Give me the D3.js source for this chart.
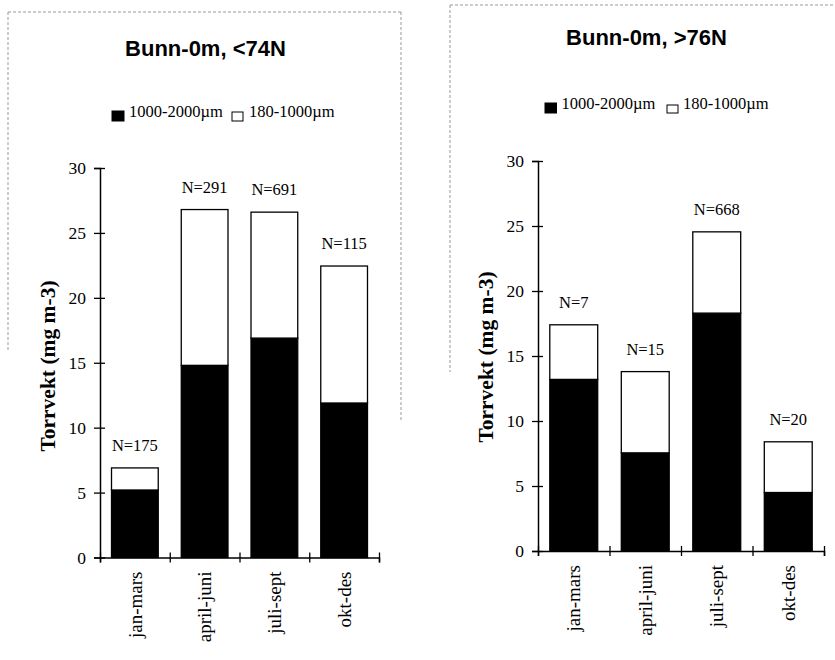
<!DOCTYPE html>
<html>
<head>
<meta charset="utf-8">
<script src="https://cdn.jsdelivr.net/npm/d3@7"></script>
<style>
  body { margin: 0; background: #fff; }
  svg { display: block; }
  .serif { font-family: "Liberation Serif", "Times New Roman", serif; }
  .sans { font-family: "Liberation Sans", Arial, sans-serif; }
</style>
</head>
<body>
<div id="chartDiv"></div>
<script>
// categories and series
var categories = ["jan-mars", "april-juni", "juli-sept", "okt-des"];
var seriesNames = ["1000-2000\u00b5m", "180-1000\u00b5m"];
var yTicks = [0, 5, 10, 15, 20, 25, 30];

// <74N panel
var south_large = [5.2, 14.8, 16.9, 11.9];
var south_small = [1.7, 12.0, 9.7, 10.55];
var south_n = ["N=175", "N=291", "N=691", "N=115"];

// >76N panel
var north_large = [13.2, 7.55, 18.3, 4.5];
var north_small = [4.2, 6.25, 6.25, 3.9];
var north_n = ["N=7", "N=15", "N=668", "N=20"];

var width = 835, height = 660;

var svg = d3.select("#chartDiv")
    .append("svg")
    .attr("width", width)
    .attr("height", height);

function drawPanel(p) {
    var g = svg.append("g");

    // scanned page frame (dotted)
    var frame = g.append("g")
        .attr("stroke", "#999")
        .attr("stroke-width", 1)
        .attr("stroke-dasharray", "3,2")
        .attr("fill", "none");
    p.frame.forEach(function (f) {
        frame.append("line")
            .attr("x1", f[0]).attr("y1", f[1])
            .attr("x2", f[2]).attr("y2", f[3]);
    });

    var y = d3.scaleLinear().domain([0, 30]).range([p.y0, p.y30]);
    var x = d3.scaleBand().domain(categories)
        .range([p.x0, p.x1])
        .paddingInner(0.33)
        .paddingOuter(0.165);
    var xEdge = d3.scaleLinear().domain([0, categories.length]).range([p.x0, p.x1]);

    // table for stacking
    var table = categories.map(function (c, i) {
        var row = { cat: c };
        row[seriesNames[0]] = p.large[i];
        row[seriesNames[1]] = p.small[i];
        return row;
    });
    var stacked = d3.stack().keys(seriesNames)(table);
    var color = d3.scaleOrdinal().domain(seriesNames).range(["#000", "#fff"]);

    g.append("g")
        .selectAll("g")
        .data(stacked)
        .enter().append("g")
        .attr("fill", function (d) { return color(d.key); })
        .selectAll("rect")
        .data(function (d) { return d; })
        .enter().append("rect")
        .attr("x", function (d) { return x(d.data.cat); })
        .attr("width", x.bandwidth())
        .attr("y", function (d) { return y(d[1]); })
        .attr("height", function (d) { return y(d[0]) - y(d[1]); })
        .attr("stroke", "#000")
        .attr("stroke-width", 1.3);

    // N labels
    g.append("g")
        .selectAll("text")
        .data(table)
        .enter().append("text")
        .attr("class", "serif")
        .attr("font-size", 16.5)
        .attr("text-anchor", "middle")
        .attr("x", function (d) { return x(d.cat) + x.bandwidth() / 2; })
        .attr("y", function (d, i) { return y(p.large[i] + p.small[i]) - 17; })
        .text(function (d, i) { return p.n[i]; });

    // y axis
    var yAxis = g.append("g")
        .attr("transform", "translate(" + p.x0 + ",0)")
        .call(d3.axisLeft(y).tickValues(yTicks).tickSize(6).tickPadding(8));
    yAxis.select(".domain").attr("stroke-width", 1.5);
    yAxis.selectAll(".tick line").attr("x1", 5).attr("stroke-width", 1.3);
    yAxis.selectAll("text")
        .attr("class", "serif")
        .attr("font-size", 17.5)
        .attr("fill", "#000");

    // x axis (ticks at category edges)
    var xAxis = g.append("g")
        .attr("transform", "translate(0," + p.y0 + ")")
        .call(d3.axisBottom(xEdge).tickValues([0, 1, 2, 3, 4]).tickSize(5).tickFormat(""));
    xAxis.select(".domain").attr("stroke-width", 1.5);
    xAxis.selectAll(".tick line").attr("y1", -5).attr("stroke-width", 1.3);

    // category labels
    g.append("g")
        .selectAll("text")
        .data(categories)
        .enter().append("text")
        .attr("class", "serif")
        .attr("font-size", 19)
        .attr("text-anchor", "end")
        .attr("dy", "0.35em")
        .attr("transform", function (d) {
            return "translate(" + (x(d) + x.bandwidth() / 2) + "," + (p.y0 + 14) + ") rotate(-90)";
        })
        .text(function (d) { return d; });

    // y axis title
    g.append("text")
        .attr("class", "serif")
        .attr("font-size", 21.5)
        .attr("font-weight", "bold")
        .attr("text-anchor", "middle")
        .attr("dy", "0.35em")
        .attr("transform", "translate(" + p.ylab[0] + "," + p.ylab[1] + ") rotate(-90)")
        .text("Torrvekt (mg m-3)");

    // title
    g.append("text")
        .attr("class", "sans")
        .attr("font-size", 22)
        .attr("font-weight", "bold")
        .attr("text-anchor", "middle")
        .attr("x", p.title[0])
        .attr("y", p.title[1])
        .text(p.titleText);

    // legend
    var leg = g.append("g")
        .selectAll("g")
        .data(seriesNames)
        .enter().append("g");
    leg.append("rect")
        .attr("x", function (d, i) { return p.legBox[i][0]; })
        .attr("y", function (d, i) { return p.legBox[i][1]; })
        .attr("width", function (d, i) { return p.legBox[i][2]; })
        .attr("height", function (d, i) { return p.legBox[i][3]; })
        .attr("fill", function (d) { return color(d); })
        .attr("stroke", "#000")
        .attr("stroke-width", 1);
    leg.append("text")
        .attr("class", "serif")
        .attr("font-size", 16.5)
        .attr("x", function (d, i) { return p.legText[i]; })
        .attr("y", p.legBase)
        .text(function (d) { return d; });
}

drawPanel({
    large: south_large, small: south_small, n: south_n,
    x0: 100, x1: 379, y0: 557.5, y30: 168,
    ylab: [47, 366], title: [205.5, 55.5], titleText: "Bunn-0m, <74N",
    legBox: [[112, 111, 12, 10], [232, 112, 11, 9]], legText: [129, 249], legBase: 117,
    frame: [[8, 12, 401, 12], [8, 12, 8, 350], [401, 12, 401, 420]]
});

drawPanel({
    large: north_large, small: north_small, n: north_n,
    x0: 538, x1: 824, y0: 551, y30: 161,
    ylab: [485, 357], title: [646.5, 45], titleText: "Bunn-0m, >76N",
    legBox: [[545, 103, 11.5, 10], [667, 105, 11, 8]], legText: [561.5, 683], legBase: 109,
    frame: [[450, 5, 835, 5], [450, 5, 450, 372]]
});
</script>
</body>
</html>
